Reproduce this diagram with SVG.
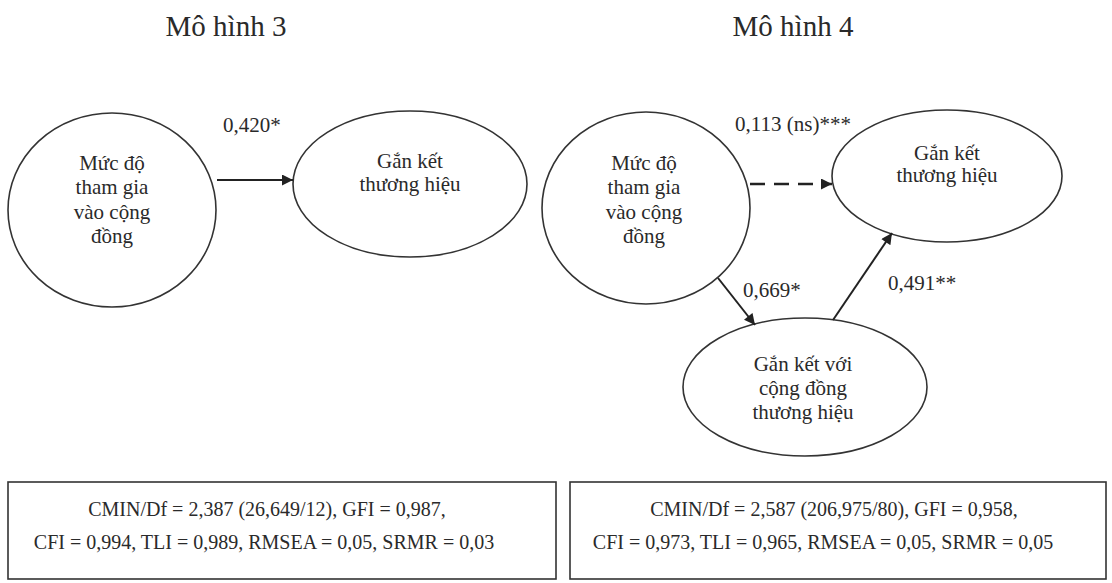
<svg xmlns="http://www.w3.org/2000/svg" width="1112" height="583" viewBox="0 0 1112 583">
  <defs>
    <marker id="arrow" viewBox="0 0 10 10" refX="10" refY="5" markerWidth="12" markerHeight="11" markerUnits="userSpaceOnUse" orient="auto">
      <path d="M0,0 L10,5 L0,10 Z" fill="#222"/>
    </marker>
    <style>
      .node { fill: #fff; stroke: #333; stroke-width: 1.6; }
      .box { fill: #fff; stroke: #333; stroke-width: 1.6; }
      .lbl { font-family: "Liberation Serif", "Times New Roman", serif; font-size: 21px; fill: #2a2a2a; text-anchor: middle; }
      .coef { font-family: "Liberation Serif", "Times New Roman", serif; font-size: 21px; fill: #2a2a2a; }
      .title { font-family: "Liberation Serif", "Times New Roman", serif; font-size: 29px; fill: #2a2a2a; text-anchor: middle; }
      .fit { font-family: "Liberation Serif", "Times New Roman", serif; font-size: 20px; fill: #2a2a2a; text-anchor: middle; }
      .edge { stroke: #222; stroke-width: 2; fill: none; }
      .dash { stroke-width: 2.6; stroke-dasharray: 15 9; }
    </style>
  </defs>
  <rect width="1112" height="583" fill="#fff"/>

  <!-- model headings -->
  <text class="title" x="226" y="36">Mô hình 3</text>
  <text class="title" x="793" y="36">Mô hình 4</text>

  <!-- model 3 -->
  <g id="m3-participation">
    <ellipse class="node" cx="112" cy="210" rx="104" ry="97"/>
    <text class="lbl" x="112" y="170">Mức độ</text>
    <text class="lbl" x="112" y="194">tham gia</text>
    <text class="lbl" x="112" y="219">vào cộng</text>
    <text class="lbl" x="112" y="243">đồng</text>
  </g>
  <g id="m3-brand-engagement">
    <ellipse class="node" cx="410" cy="184" rx="117" ry="73"/>
    <text class="lbl" x="410" y="168">Gắn kết</text>
    <text class="lbl" x="410" y="191">thương hiệu</text>
  </g>

  <!-- model 4 -->
  <g id="m4-participation">
    <ellipse class="node" cx="646" cy="208" rx="104" ry="96"/>
    <text class="lbl" x="644" y="170">Mức độ</text>
    <text class="lbl" x="644" y="194">tham gia</text>
    <text class="lbl" x="644" y="219">vào cộng</text>
    <text class="lbl" x="644" y="243">đồng</text>
  </g>
  <g id="m4-brand-engagement">
    <ellipse class="node" cx="947" cy="176" rx="115" ry="66"/>
    <text class="lbl" x="947" y="160">Gắn kết</text>
    <text class="lbl" x="947" y="182">thương hiệu</text>
  </g>
  <g id="m4-community-engagement">
    <ellipse class="node" cx="805" cy="387" rx="122" ry="69"/>
    <text class="lbl" x="803" y="371">Gắn kết với</text>
    <text class="lbl" x="803" y="395">cộng đồng</text>
    <text class="lbl" x="803" y="419">thương hiệu</text>
  </g>

  <!-- connectors -->
  <g id="connectors">
    <line class="edge" x1="217" y1="180" x2="293" y2="180" marker-end="url(#arrow)"/>
    <line class="edge dash" x1="750" y1="184" x2="832" y2="184" marker-end="url(#arrow)"/>
    <line class="edge" x1="718" y1="278" x2="755" y2="325" marker-end="url(#arrow)"/>
    <line class="edge" x1="833" y1="320" x2="892" y2="233" marker-end="url(#arrow)"/>
    <text class="coef" x="223" y="132">0,420*</text>
    <text class="coef" x="735" y="131">0,113 (ns)***</text>
    <text class="coef" x="743" y="297">0,669*</text>
    <text class="coef" x="888" y="290">0,491**</text>
  </g>

  <!-- fit indices -->
  <g id="m3-fit">
    <rect class="box" x="8" y="482" width="548" height="97"/>
    <text class="fit" x="267" y="516">CMIN/Df = 2,387 (26,649/12), GFI = 0,987,</text>
    <text class="fit" x="264" y="549">CFI = 0,994, TLI = 0,989, RMSEA = 0,05, SRMR = 0,03</text>
  </g>
  <g id="m4-fit">
    <rect class="box" x="570" y="482" width="536" height="97"/>
    <text class="fit" x="834" y="516">CMIN/Df = 2,587 (206,975/80), GFI = 0,958,</text>
    <text class="fit" x="823" y="549">CFI = 0,973, TLI = 0,965, RMSEA = 0,05, SRMR = 0,05</text>
  </g>
</svg>
